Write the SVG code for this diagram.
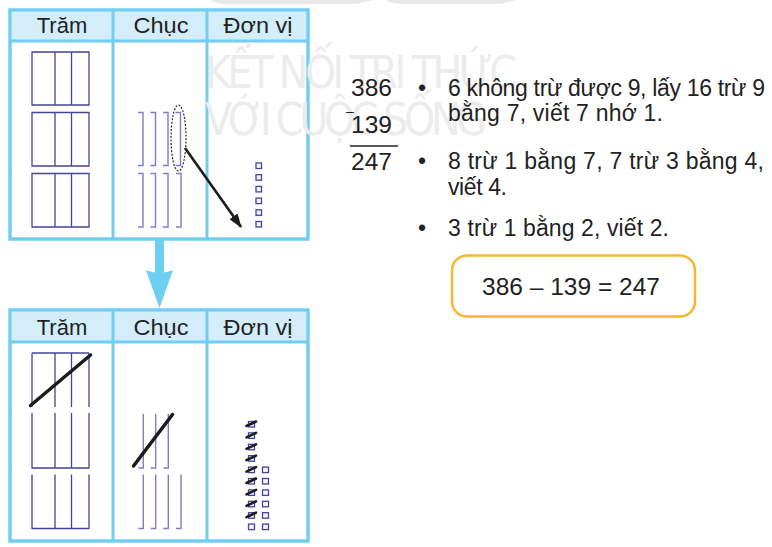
<svg xmlns="http://www.w3.org/2000/svg" width="772" height="547" viewBox="0 0 772 547">
<style>
.tbl{fill:#fff;stroke:#72cdf0;stroke-width:3}
.hdr{fill:#d3eefa}
.grid{stroke:#72cdf0;stroke-width:3;fill:none}
.h{font-family:"Liberation Sans",Arial,sans-serif;font-size:22px;fill:#222;text-anchor:middle}
.hund{fill:none;stroke:#44449a;stroke-width:1.3}
.ten{fill:none;stroke:#7d7dcc;stroke-width:1.4}
.unit{fill:#f4f4ff;stroke:#44449a;stroke-width:1.3}
.strike{stroke:#1c1c1c;stroke-width:3.5;stroke-linecap:round;fill:none}
.mark{stroke:#1c1c1c;stroke-width:2.6;stroke-linecap:round}
.t{font-family:"Liberation Sans",Arial,sans-serif;font-size:23px;fill:#222}
.n{font-family:"Liberation Sans",Arial,sans-serif;font-size:24.5px;fill:#222}
.wm{font-family:"DejaVu Sans Condensed","DejaVu Sans",sans-serif;font-size:44px;fill:#ececec}
</style>
<defs>
<marker id="arrowBlack" markerUnits="userSpaceOnUse" markerWidth="14" markerHeight="10" refX="13" refY="5" orient="auto">
<path d="M0,0 L14,5 L0,10 Z" fill="#1c1c1c"/>
</marker>
</defs>
<rect width="772" height="547" fill="#fff"/>
<g id="logo-bg" fill="#e8e8e8">
<path d="M210,0 H372 Q362,4 350,4 H228 Q216,4 210,0 Z"/>
<path d="M386,0 H515 Q505,4 494,4 H402 Q392,4 386,0 Z"/>
</g>

<g id="table-top">
<rect class="tbl" x="10" y="10" width="298" height="229"/>
<rect class="hdr" x="11.5" y="11.5" width="295" height="29"/>
<path class="grid" d="M10,41 H308 M113,10 V239 M207,10 V239"/>
<rect class="tbl" x="10" y="10" width="298" height="229" style="fill:none"/>
<text class="h" x="62" y="33">Trăm</text>
<text class="h" x="161" y="33" textLength="55" lengthAdjust="spacingAndGlyphs">Chục</text>
<text class="h" x="258" y="33" textLength="69" lengthAdjust="spacingAndGlyphs">Đơn vị</text>
</g>

<g id="table-bottom">
<rect class="tbl" x="10" y="310" width="298" height="231"/>
<rect class="hdr" x="11.5" y="311.5" width="295" height="30"/>
<path class="grid" d="M10,342 H308 M113,310 V541 M207,310 V541"/>
<rect class="tbl" x="10" y="310" width="298" height="231" style="fill:none"/>
<text class="h" x="62" y="335">Trăm</text>
<text class="h" x="161" y="335" textLength="55" lengthAdjust="spacingAndGlyphs">Chục</text>
<text class="h" x="258" y="335" textLength="69" lengthAdjust="spacingAndGlyphs">Đơn vị</text>
</g>

<g id="watermark">
<text class="wm" x="205" y="88" textLength="312" lengthAdjust="spacing">KẾT NỐI TRI THỨC</text>
<text class="wm" x="205" y="135" textLength="282" lengthAdjust="spacing">VỚI CUỘC SỐNG</text>
</g>

<g id="hundreds-top">
<path class="hund" d="M32,52 H89 V105 H32 Z M55,52 V105 M71.5,52 V105"/>
<path class="hund" d="M32,112.5 H89 V166 H32 Z M55,112.5 V166 M71.5,112.5 V166"/>
<path class="hund" d="M32,173.5 H89 V227 H32 Z M55,173.5 V227 M71.5,173.5 V227"/>
</g>

<g id="tens-top">
<path class="ten" d="M138,112.5 H143 V165.5 H138 M150.5,112.5 H155.5 V165.5 H150.5 M163,112.5 H168 V165.5 H163 M175.5,112.5 H180.5 V165.5 H175.5"/>
<path class="ten" d="M138,173.5 H143 V227 H138 M150.5,173.5 H155.5 V227 H150.5 M163,173.5 H168 V227 H163 M176,173.5 H181 V227 H176"/>
<ellipse cx="178.5" cy="138" rx="7.5" ry="33" fill="none" stroke="#2a2a2a" stroke-width="1.2" stroke-dasharray="2 1.5"/>
</g>

<g id="units-top">
<rect class="unit" x="256" y="163" width="5.5" height="5.5"/>
<rect class="unit" x="256" y="174.7" width="5.5" height="5.5"/>
<rect class="unit" x="256" y="186.4" width="5.5" height="5.5"/>
<rect class="unit" x="256" y="198.1" width="5.5" height="5.5"/>
<rect class="unit" x="256" y="209.8" width="5.5" height="5.5"/>
<rect class="unit" x="256" y="221.5" width="5.5" height="5.5"/>
</g>

<g id="hundreds-bottom">
<path class="hund" d="M32,353 H89 M32,353 V407 M55,353 V407 M71.5,353 V407 M89,353 V407"/>
<path class="hund" d="M32,413 V468 H89 V413 M55,413 V468 M71.5,413 V468"/>
<path class="hund" d="M32,474.5 V528.5 H89 V474.5 M55,474.5 V528.5 M71.5,474.5 V528.5"/>
<line class="strike" x1="30.5" y1="405.5" x2="90.5" y2="355"/>
</g>

<g id="tens-bottom">
<path class="ten" d="M143.3,414 V468 H138.3 M155.7,414 V468 H150.7 M168.3,414 V468 H163.3"/>
<path class="ten" d="M143.3,474.5 V528.5 H138.3 M155.7,474.5 V528.5 H150.7 M168.3,474.5 V528.5 H163.3 M181,474.5 V528.5 H176"/>
<line class="strike" x1="133.5" y1="466" x2="172.5" y2="414.5"/>
</g>

<g id="units-bottom">
<rect class="unit" x="248.5" y="421.5" width="6" height="5.5"/>
<rect class="unit" x="248.5" y="432.9" width="6" height="5.5"/>
<rect class="unit" x="248.5" y="444.3" width="6" height="5.5"/>
<rect class="unit" x="248.5" y="455.7" width="6" height="5.5"/>
<rect class="unit" x="248.5" y="467.1" width="6" height="5.5"/>
<rect class="unit" x="248.5" y="478.5" width="6" height="5.5"/>
<rect class="unit" x="248.5" y="489.9" width="6" height="5.5"/>
<rect class="unit" x="248.5" y="501.3" width="6" height="5.5"/>
<rect class="unit" x="248.5" y="512.7" width="6" height="5.5"/>
<rect class="unit" x="248.5" y="524.1" width="6" height="5.5"/>
<rect class="unit" x="262.5" y="467.1" width="6" height="5.5"/>
<rect class="unit" x="262.5" y="478.5" width="6" height="5.5"/>
<rect class="unit" x="262.5" y="489.9" width="6" height="5.5"/>
<rect class="unit" x="262.5" y="501.3" width="6" height="5.5"/>
<rect class="unit" x="262.5" y="512.7" width="6" height="5.5"/>
<rect class="unit" x="262.5" y="524.1" width="6" height="5.5"/>
<g class="mark">
<line x1="246.5" y1="426" x2="256" y2="421.5"/>
<line x1="246.5" y1="437.4" x2="256" y2="432.9"/>
<line x1="246.5" y1="448.8" x2="256" y2="444.3"/>
<line x1="246.5" y1="460.2" x2="256" y2="455.7"/>
<line x1="246.5" y1="471.6" x2="256" y2="467.1"/>
<line x1="246.5" y1="483" x2="256" y2="478.5"/>
<line x1="246.5" y1="494.4" x2="256" y2="489.9"/>
<line x1="246.5" y1="505.8" x2="256" y2="501.3"/>
<line x1="246.5" y1="517.2" x2="256" y2="512.7"/>
</g>
</g>

<g id="connectors">
<path d="M185,148 L241,227" stroke="#1c1c1c" stroke-width="2.6" fill="none" marker-end="url(#arrowBlack)"/>
<g fill="#6dcff2">
<rect x="155" y="240" width="9" height="36"/>
<path d="M146,270 Q159.5,276 173,270 L159.5,308 Z"/>
</g>
</g>

<g id="column-subtraction">
<text class="n" x="392" y="96" text-anchor="end">386</text>
<text class="n" x="346" y="116" style="font-size:14px">–</text>
<text class="n" x="392" y="133" text-anchor="end">139</text>
<line x1="350" y1="146" x2="398" y2="146" stroke="#222" stroke-width="1.5"/>
<text class="n" x="392" y="170" text-anchor="end">247</text>
</g>

<g id="steps">
<text class="t" x="418" y="96">•</text>
<text class="t" x="448" y="96" textLength="317">6 không trừ được 9, lấy 16 trừ 9</text>
<text class="t" x="448" y="121" textLength="215">bằng 7, viết 7 nhớ 1.</text>
<text class="t" x="418" y="169">•</text>
<text class="t" x="448" y="169" textLength="316">8 trừ 1 bằng 7, 7 trừ 3 bằng 4,</text>
<text class="t" x="448" y="195" textLength="59">viết 4.</text>
<text class="t" x="418" y="236">•</text>
<text class="t" x="448" y="236" textLength="221">3 trừ 1 bằng 2, viết 2.</text>
</g>

<g id="result-box">
<rect x="452" y="255.5" width="243" height="61" rx="15" fill="#fff" stroke="#f5b731" stroke-width="2.5"/>
<text class="n" x="571" y="295" text-anchor="middle">386 – 139 = 247</text>
</g>
</svg>
